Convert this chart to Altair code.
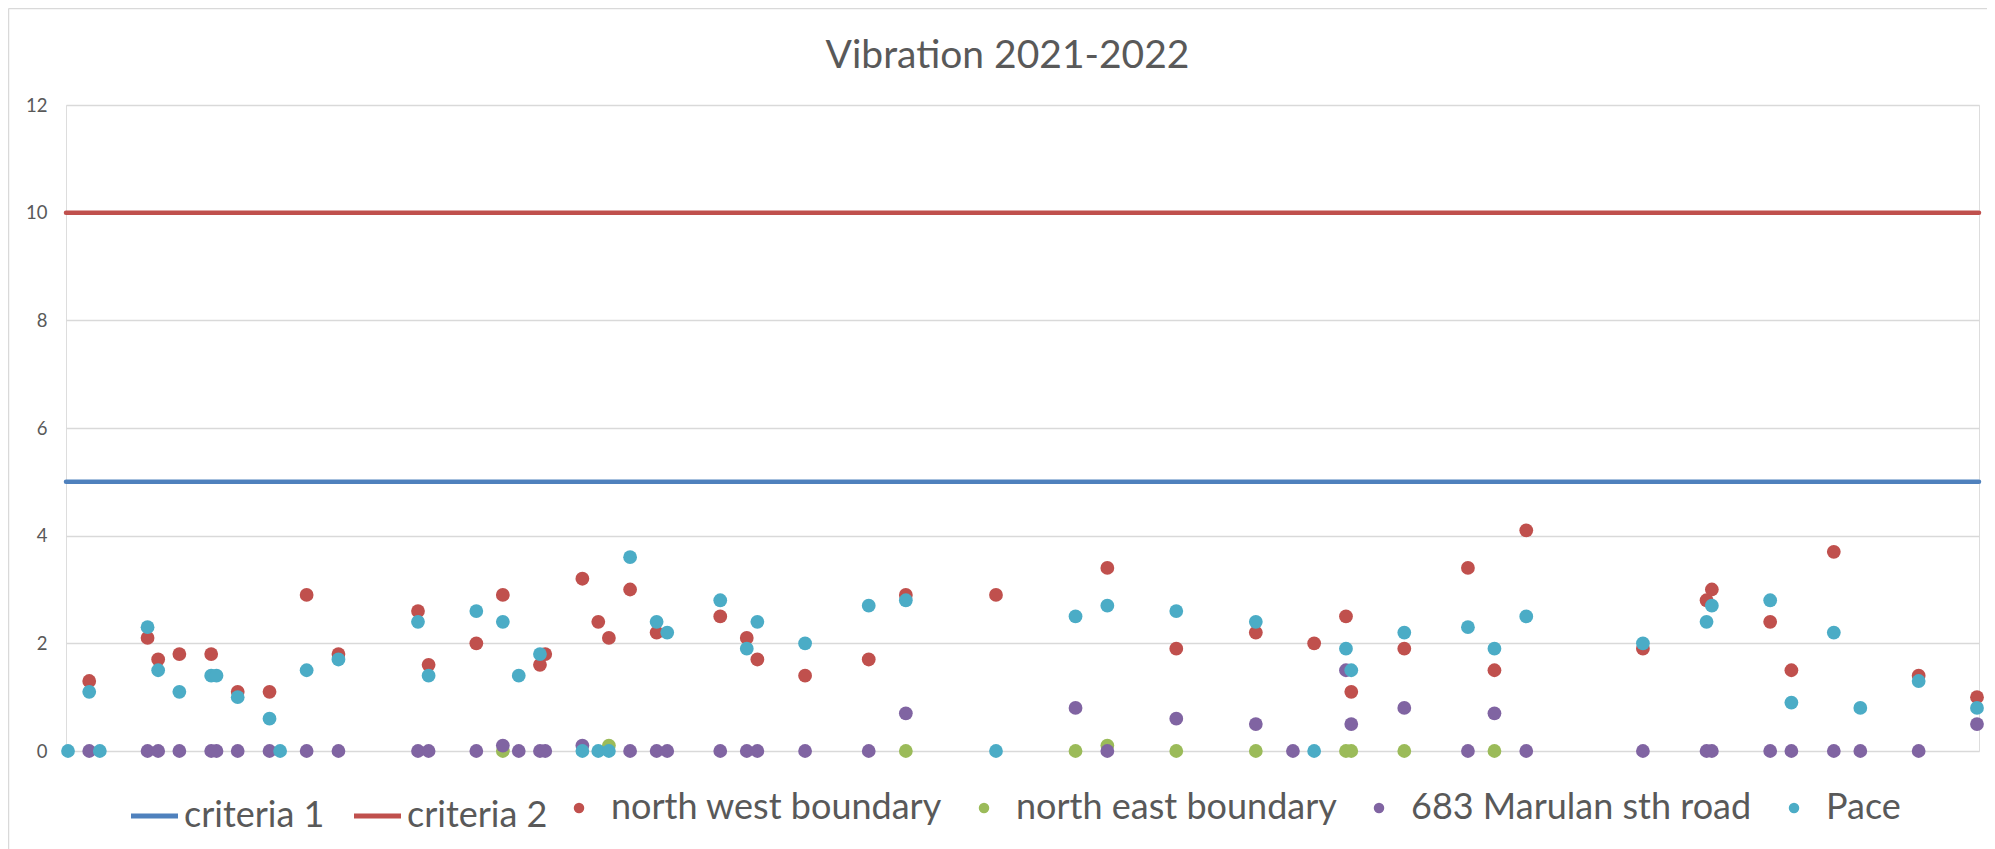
import altair as alt
import pandas as pd

TITLE = "Vibration 2021-2022"

# day of reading (days since first reading)
days = [0, 4, 6, 15, 17, 21, 27, 28, 32, 38, 40, 45, 51, 66, 68, 77, 82, 85, 89, 90,
        97, 100, 102, 106, 111, 113, 123, 128, 130, 139, 151, 158, 175, 190, 196, 209,
        224, 231, 235, 241, 242, 252, 264, 269, 275, 297, 309, 310, 321, 325, 333, 338,
        349, 360]
N = None
north_west = [N, 1.3, N, 2.1, 1.7, 1.8, 1.8, N, 1.1, 1.1, N, 2.9, 1.8, 2.6, 1.6, 2.0, 2.9, N, 1.6, 1.8,
              3.2, 2.4, 2.1, 3.0, 2.2, N, 2.5, 2.1, 1.7, 1.4, 1.7, 2.9, 2.9, N, 3.4, 1.9,
              2.2, N, 2.0, 2.5, 1.1, 1.9, 3.4, 1.5, 4.1, 1.9, 2.8, 3.0, 2.4, 1.5, 3.7, N,
              1.4, 1.0]
north_east = [N, N, N, N, N, N, N, N, N, N, N, N, N, N, N, N, 0, N, N, N,
              N, N, 0.1, N, N, N, N, N, N, N, N, 0, N, 0, 0.1, 0,
              0, N, N, 0, 0, 0, N, 0, N, N, N, N, N, N, N, N,
              N, N]
marulan = [N, 0, N, 0, 0, 0, 0, 0, 0, 0, N, 0, 0, 0, 0, 0, 0.1, 0, 0, 0,
           0.1, N, N, 0, 0, 0, 0, 0, 0, 0, 0, 0.7, N, 0.8, 0, 0.6,
           0.5, 0, N, 1.5, 0.5, 0.8, 0, 0.7, 0, 0, 0, 0, 0, 0, 0, 0,
           0, 0.5]
pace = [0, 1.1, 0, 2.3, 1.5, 1.1, 1.4, 1.4, 1.0, 0.6, 0, 1.5, 1.7, 2.4, 1.4, 2.6, 2.4, 1.4, 1.8, N,
        0, 0, 0, 3.6, 2.4, 2.2, 2.8, 1.9, 2.4, 2.0, 2.7, 2.8, 0, 2.5, 2.7, 2.6,
        2.4, N, 0, 1.9, 1.5, 2.2, 2.3, 1.9, 2.5, 2.0, 2.4, 2.7, 2.8, 0.9, 2.2, 0.8,
        1.3, 0.8]

criteria_names = ["criteria 1", "criteria 2"]
criteria_values = [5, 10]
criteria_colors = ["#4F81BD", "#C0504D"]

series_names = ["north west boundary", "north east boundary", "683 Marulan sth road", "Pace"]
series_colors = ["#C0504D", "#9BBB59", "#8064A2", "#4BACC6"]
series_values = [north_west, north_east, marulan, pace]

rows = []
for name, vals in zip(series_names, series_values):
    for d, v in zip(days, vals):
        if v is not None:
            rows.append({"day": d, "value": v, "series": name})
points_df = pd.DataFrame(rows)
crit_df = pd.DataFrame({"series": criteria_names, "value": criteria_values})

FONT = "Lato"
GREY = "#595959"
LEG_FS = 36

x_scale = alt.Scale(domain=[-0.38, 360.38], nice=False, zero=False)
y_scale = alt.Scale(domain=[0, 12], nice=False)
y_axis = alt.Axis(values=[0, 2, 4, 6, 8, 10, 12], grid=True, gridColor="#D9D9D9", gridWidth=1.3,
                  domain=False, ticks=False, labelFont=FONT, labelFontSize=18.5, labelColor=GREY,
                  labelPadding=19, title=None)

crit = alt.Chart(crit_df).mark_rule(strokeWidth=4.5, strokeCap="round").encode(
    y=alt.Y("value:Q", scale=y_scale, axis=y_axis),
    color=alt.Color("series:N", scale=alt.Scale(domain=criteria_names, range=criteria_colors),
                    legend=alt.Legend(orient="none", legendX=62.5, legendY=685, direction="horizontal",
                                      title=None, symbolType="stroke", symbolSize=2209,
                                      symbolStrokeWidth=5, labelFont=FONT, labelFontSize=LEG_FS,
                                      labelColor=GREY, labelOffset=3.5, columnPadding=19, padding=0,
                                      labelLimit=0, gridAlign="each")),
)

pts = alt.Chart(points_df).mark_circle(size=190, opacity=1).encode(
    x=alt.X("day:Q", scale=x_scale, axis=None),
    y=alt.Y("value:Q", scale=y_scale, axis=y_axis),
    color=alt.Color("series:N", scale=alt.Scale(domain=series_names, range=series_colors),
                    sort=series_names,
                    legend=alt.Legend(orient="none", legendX=495, legendY=685, direction="horizontal",
                                      title=None, symbolType="circle", symbolSize=110,
                                      symbolStrokeWidth=0,
                                      labelFont=FONT, labelFontSize=LEG_FS, labelColor=GREY,
                                      labelOffset=14, columnPadding=24, padding=0, labelLimit=0,
                                      gridAlign="each")),
)

border_df = pd.DataFrame({"k": [0]})
border_left = alt.Chart(border_df).mark_rule(color="#D9D9D9", strokeWidth=1.5).encode(
    x=alt.value(-57.5), y=alt.value(-96.5), y2=alt.value(760))
border_top = alt.Chart(border_df).mark_rule(color="#D9D9D9", strokeWidth=1.5).encode(
    x=alt.value(-57.5), x2=alt.value(1940), y=alt.value(-96.5))

title_df = pd.DataFrame({"t": [TITLE]})
title = alt.Chart(title_df).mark_text(font=FONT, fontSize=39, color=GREY, align="center",
                                      baseline="alphabetic").encode(
    x=alt.value(941.5), y=alt.value(-36.7), text="t:N")

chart = alt.layer(border_left, border_top, crit, pts, title).resolve_scale(
    color="independent").resolve_legend(color="independent").properties(
    width=1913, height=646,
    autosize=alt.AutoSizeParams(type="none"),
    padding={"left": 58, "top": 97, "right": 8, "bottom": 98},
).configure_view(stroke=None).configure(background="white")

chart.save("out.html", embed_options={"renderer": "svg", "actions": False})
